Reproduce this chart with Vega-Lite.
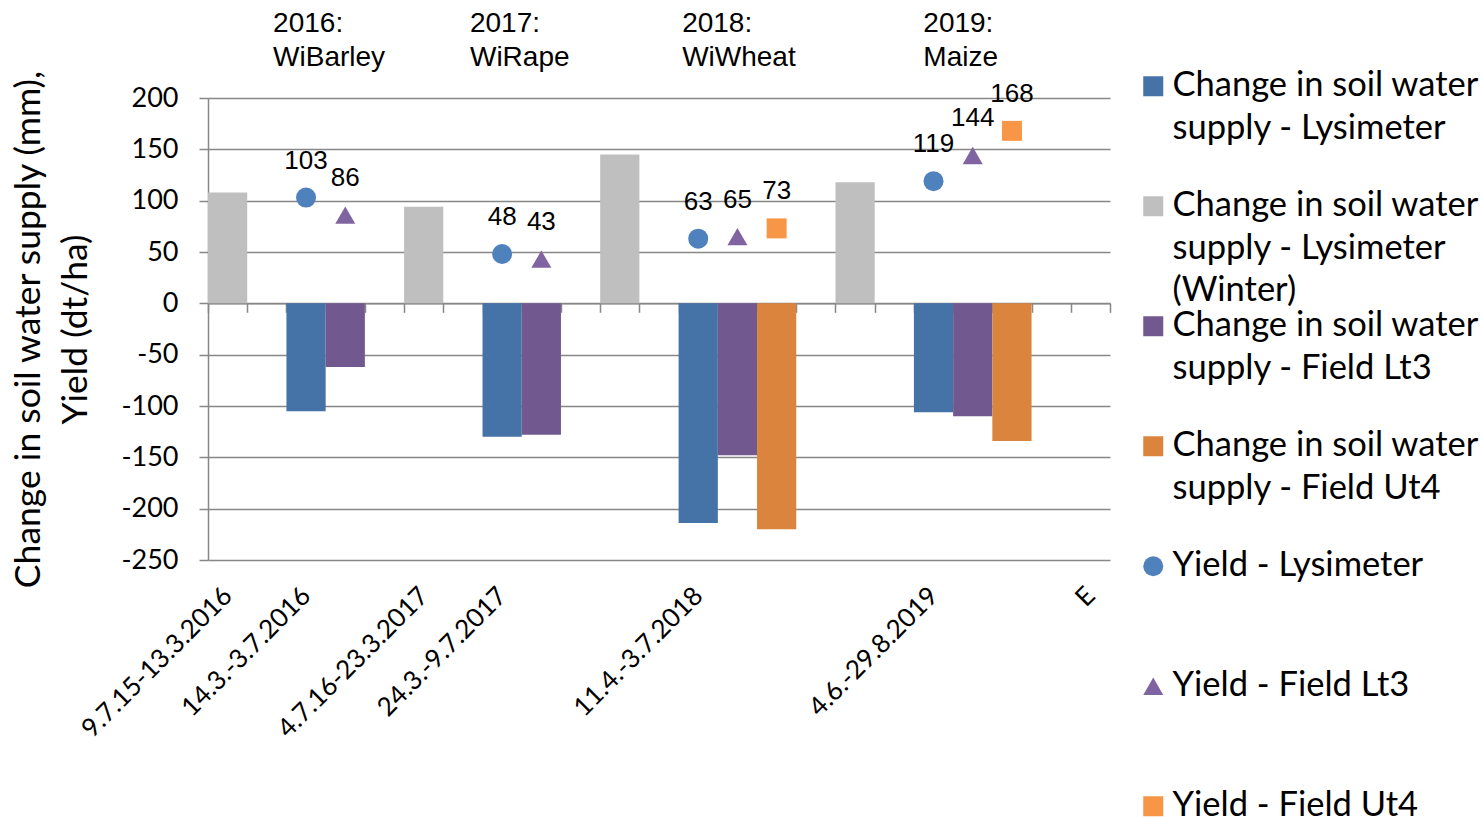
{
  "$schema": "https://vega.github.io/schema/vega-lite/v6.json",
  "width": 902,
  "height": 462,
  "autosize": {"type": "none"},
  "padding": {"left": 208, "top": 98, "right": 373, "bottom": 257},
  "background": "white",
  "config": {"view": {"stroke": null}, "style": {"guide-label": {"lineHeight": 42.5}}},
  "datasets": {
    "bars": [
      {"slot": "9.7.15-13.3.2016", "series": "Change in soil water supply - Lysimeter (Winter)", "value": 108},
      {"slot": "14.3.-3.7.2016", "series": "Change in soil water supply - Lysimeter", "value": -105},
      {"slot": "14.3.-3.7.2016~Lt3", "series": "Change in soil water supply - Field Lt3", "value": -62},
      {"slot": "4.7.16-23.3.2017", "series": "Change in soil water supply - Lysimeter (Winter)", "value": 94},
      {"slot": "24.3.-9.7.2017", "series": "Change in soil water supply - Lysimeter", "value": -130},
      {"slot": "24.3.-9.7.2017~Lt3", "series": "Change in soil water supply - Field Lt3", "value": -128},
      {"slot": "~winter 2017/18", "series": "Change in soil water supply - Lysimeter (Winter)", "value": 145},
      {"slot": "11.4.-3.7.2018", "series": "Change in soil water supply - Lysimeter", "value": -214},
      {"slot": "11.4.-3.7.2018~Lt3", "series": "Change in soil water supply - Field Lt3", "value": -148},
      {"slot": "11.4.-3.7.2018~Ut4", "series": "Change in soil water supply - Field Ut4", "value": -220},
      {"slot": "~winter 2018/19", "series": "Change in soil water supply - Lysimeter (Winter)", "value": 118},
      {"slot": "4.6.-29.8.2019", "series": "Change in soil water supply - Lysimeter", "value": -106},
      {"slot": "4.6.-29.8.2019~Lt3", "series": "Change in soil water supply - Field Lt3", "value": -110},
      {"slot": "4.6.-29.8.2019~Ut4", "series": "Change in soil water supply - Field Ut4", "value": -134}
    ],
    "points": [
      {"slot": "14.3.-3.7.2016", "series": "Yield - Lysimeter", "value": 103},
      {"slot": "14.3.-3.7.2016~Lt3", "series": "Yield - Field Lt3", "value": 86},
      {"slot": "24.3.-9.7.2017", "series": "Yield - Lysimeter", "value": 48},
      {"slot": "24.3.-9.7.2017~Lt3", "series": "Yield - Field Lt3", "value": 43},
      {"slot": "11.4.-3.7.2018", "series": "Yield - Lysimeter", "value": 63},
      {"slot": "11.4.-3.7.2018~Lt3", "series": "Yield - Field Lt3", "value": 65},
      {"slot": "11.4.-3.7.2018~Ut4", "series": "Yield - Field Ut4", "value": 73},
      {"slot": "4.6.-29.8.2019", "series": "Yield - Lysimeter", "value": 119},
      {"slot": "4.6.-29.8.2019~Lt3", "series": "Yield - Field Lt3", "value": 144},
      {"slot": "4.6.-29.8.2019~Ut4", "series": "Yield - Field Ut4", "value": 168}
    ],
    "notes": [
      {"slot": "~1", "shift": 0.16, "value": 264, "label": "2016:\nWiBarley"},
      {"slot": "~6", "shift": 0.18, "value": 264, "label": "2017:\nWiRape"},
      {"slot": "11.4.-3.7.2018", "shift": -0.41, "value": 264, "label": "2018:\nWiWheat"},
      {"slot": "4.6.-29.8.2019", "shift": -0.26, "value": 264, "label": "2019:\nMaize"}
    ]
  },
  "encoding": {
    "x": {
      "field": "slot",
      "type": "nominal",
      "sort": null,
      "scale": {
        "domain": ["9.7.15-13.3.2016", "~1", "14.3.-3.7.2016", "14.3.-3.7.2016~Lt3", "~4", "4.7.16-23.3.2017", "~6", "24.3.-9.7.2017", "24.3.-9.7.2017~Lt3", "~9", "~winter 2017/18", "~11", "11.4.-3.7.2018", "11.4.-3.7.2018~Lt3", "11.4.-3.7.2018~Ut4", "~15", "~winter 2018/19", "~17", "4.6.-29.8.2019", "4.6.-29.8.2019~Lt3", "4.6.-29.8.2019~Ut4", "~21", "E"],
        "paddingInner": 0,
        "paddingOuter": 0
      },
      "axis": {
        "title": null,
        "offset": -256.67,
        "grid": false,
        "domain": true,
        "domainColor": "#878787",
        "domainWidth": 1.5,
        "ticks": true,
        "tickBand": "extent",
        "tickSize": 9,
        "tickColor": "#878787",
        "tickWidth": 1.5,
        "labelExpr": "test(/~/, datum.label) ? '' : datum.label",
        "labelAngle": -45,
        "labelAlign": "right",
        "labelBaseline": "middle",
        "labelPadding": 279,
        "labelLimit": 400,
        "labelFont": "Lato",
        "labelFontSize": 26,
        "labelColor": "black",
        "labelOverlap": false,
        "labelBound": false,
        "labelFlush": false
      }
    },
    "y": {
      "field": "value",
      "type": "quantitative",
      "scale": {"domain": [-250, 200], "nice": false, "zero": false},
      "axis": {
        "values": [-250, -200, -150, -100, -50, 0, 50, 100, 150, 200],
        "labelExpr": "'' + datum.value",
        "grid": true,
        "gridColor": "#878787",
        "gridWidth": 1.5,
        "domain": true,
        "domainColor": "#878787",
        "domainWidth": 1.5,
        "ticks": true,
        "tickColor": "#878787",
        "tickWidth": 1.5,
        "tickSize": 9,
        "labelFont": "Lato",
        "labelFontSize": 27,
        "labelColor": "black",
        "labelPadding": 21,
        "title": ["Change in soil water supply (mm),", "Yield (dt/ha)"],
        "titleFont": "Lato",
        "titleFontSize": 35.5,
        "titleFontWeight": "normal",
        "titleColor": "black",
        "titleLineHeight": 47,
        "titleX": -180,
        "titleY": 231,
        "titleAngle": 270,
        "titleAlign": "center",
        "titleBaseline": "middle"
      }
    }
  },
  "layer": [
    {
      "data": {"name": "bars"},
      "mark": {"type": "bar"},
      "encoding": {
        "color": {
          "field": "series",
          "type": "nominal",
          "scale": {
            "domain": ["Change in soil water supply - Lysimeter", "Change in soil water supply - Lysimeter (Winter)", "Change in soil water supply - Field Lt3", "Change in soil water supply - Field Ut4", "Yield - Lysimeter", "Yield - Field Lt3", "Yield - Field Ut4"],
            "range": ["#4572A7", "#BFBFBF", "#71588F", "#DB843D", "#4F81BD", "#8064A2", "#F79646"]
          },
          "legend": {
            "title": null,
            "orient": "none",
            "legendX": 928,
            "legendY": -29,
            "direction": "vertical",
            "padding": 0,
            "symbolSize": 400,
            "symbolStrokeWidth": 0,
            "symbolOffset": 0,
            "labelFont": "Lato",
            "labelFontSize": 34.5,
            "labelColor": "black",
            "labelLimit": 500,
            "labelOffset": 2,
            "labelBaseline": "middle",
            "labelExpr": "test(/^Change in soil water /, datum.label) ? split(replace(replace(datum.label, 'water ', 'water|'), ' (Winter)', '|(Winter)'), '|') : datum.label",
            "rowPadding": 0,
            "gridAlign": "all"
          }
        }
      }
    },
    {
      "data": {"name": "points"},
      "mark": {"type": "point", "filled": true, "size": 400, "opacity": 1},
      "encoding": {
        "color": {
          "field": "series",
          "type": "nominal",
          "scale": {
            "domain": ["Change in soil water supply - Lysimeter", "Change in soil water supply - Lysimeter (Winter)", "Change in soil water supply - Field Lt3", "Change in soil water supply - Field Ut4", "Yield - Lysimeter", "Yield - Field Lt3", "Yield - Field Ut4"],
            "range": ["#4572A7", "#BFBFBF", "#71588F", "#DB843D", "#4F81BD", "#8064A2", "#F79646"]
          },
          "legend": {
            "title": null,
            "orient": "none",
            "legendX": 928,
            "legendY": -29,
            "direction": "vertical",
            "padding": 0,
            "symbolSize": 400,
            "symbolStrokeWidth": 0,
            "symbolOffset": 0,
            "labelFont": "Lato",
            "labelFontSize": 34.5,
            "labelColor": "black",
            "labelLimit": 500,
            "labelOffset": 2,
            "labelBaseline": "middle",
            "labelExpr": "test(/^Change in soil water /, datum.label) ? split(replace(replace(datum.label, 'water ', 'water|'), ' (Winter)', '|(Winter)'), '|') : datum.label",
            "rowPadding": 0,
            "gridAlign": "all"
          }
        },
        "shape": {
          "field": "series",
          "type": "nominal",
          "scale": {
            "domain": ["Change in soil water supply - Lysimeter", "Change in soil water supply - Lysimeter (Winter)", "Change in soil water supply - Field Lt3", "Change in soil water supply - Field Ut4", "Yield - Lysimeter", "Yield - Field Lt3", "Yield - Field Ut4"],
            "range": ["square", "square", "square", "square", "circle", "triangle-up", "square"]
          },
          "legend": {
            "title": null,
            "orient": "none",
            "legendX": 928,
            "legendY": -29,
            "direction": "vertical",
            "padding": 0,
            "symbolSize": 400,
            "symbolStrokeWidth": 0,
            "symbolOffset": 0,
            "labelFont": "Lato",
            "labelFontSize": 34.5,
            "labelColor": "black",
            "labelLimit": 500,
            "labelOffset": 2,
            "labelBaseline": "middle",
            "labelExpr": "test(/^Change in soil water /, datum.label) ? split(replace(replace(datum.label, 'water ', 'water|'), ' (Winter)', '|(Winter)'), '|') : datum.label",
            "rowPadding": 0,
            "gridAlign": "all"
          }
        }
      }
    },
    {
      "data": {"name": "points"},
      "mark": {"type": "text", "font": "Liberation Sans", "fontSize": 26, "dy": -29, "baseline": "alphabetic", "align": "center", "color": "black"},
      "encoding": {
        "text": {"field": "value", "type": "quantitative"}
      }
    },
    {
      "data": {"name": "notes"},
      "mark": {"type": "text", "align": "left", "baseline": "alphabetic", "font": "Liberation Sans", "fontSize": 28, "lineBreak": "\n", "lineHeight": 34, "color": "black", "dx": {"expr": "datum.shift * bandwidth('x')"}},
      "encoding": {
        "text": {"field": "label", "type": "nominal"}
      }
    }
  ]
}
